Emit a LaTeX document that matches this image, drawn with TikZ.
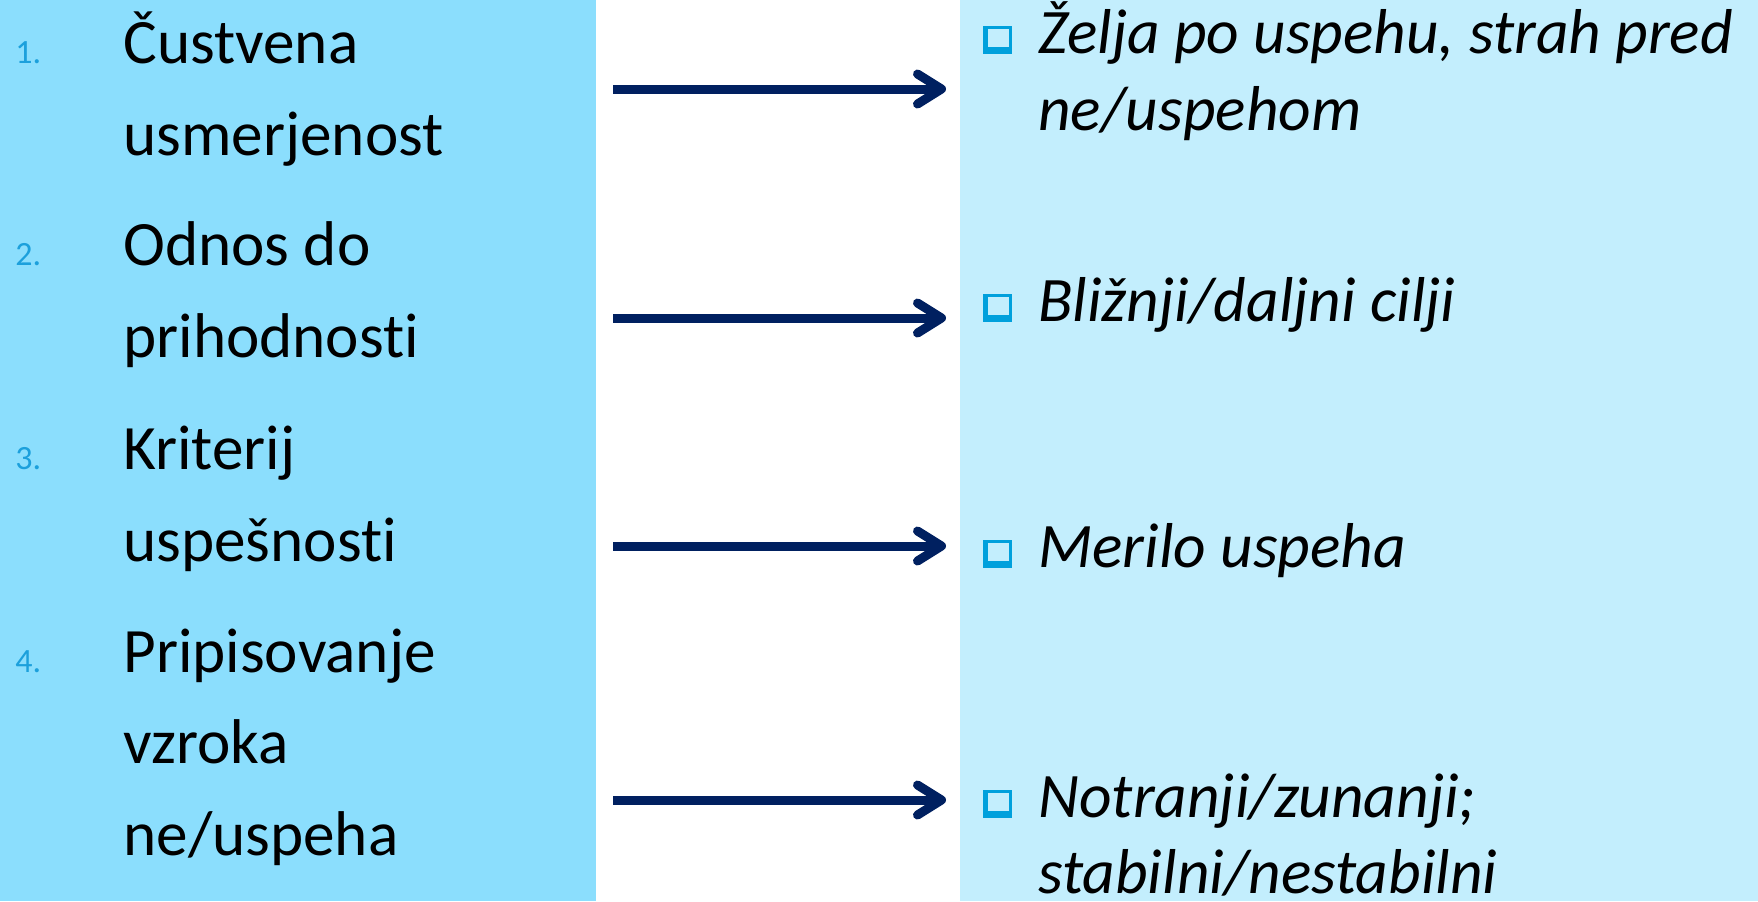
\documentclass[tikz,border=0pt]{standalone}
\usepackage{fontspec}
\setmainfont{Carlito}[Ligatures={NoCommon}]
\usetikzlibrary{arrows.meta}
\definecolor{leftbg}{HTML}{8BDEFD}
\definecolor{rightbg}{HTML}{C3EEFD}
\definecolor{numblue}{HTML}{1CA0DC}
\definecolor{bulblue}{HTML}{00A0DC}
\definecolor{navy}{HTML}{002060}
\newcommand\mybullet[2]{%
  \fill[bulblue] (#1,#2-28) rectangle (#1+29,#2);
  \fill[rightbg] (#1+5,#2-25) rectangle (#1+26,#2-7);
}
\begin{document}
\begin{tikzpicture}[x=0.5pt,y=-0.5pt,
  lefttext/.style={anchor=base west,inner sep=0pt,font=\fontsize{31.6pt}{37pt}\selectfont},
  numtext/.style={anchor=base west,inner sep=0pt,text=numblue,font=\fontsize{17pt}{20pt}\selectfont},
  righttext/.style={anchor=base west,inner sep=0pt,font=\fontsize{31.7pt}{37pt}\selectfont\itshape},
  conn/.style={draw=navy,line width=4.5pt,-{Straight Barb[length=12pt,width=15pt,round]}}]
\useasboundingbox (0,0) rectangle (1758,901);
\fill[white] (0,0) rectangle (1758,901);
\fill[leftbg] (0,0) rectangle (596,901);
\fill[rightbg] (960,0) rectangle (1758,901);
% left column
\node[numtext] (n1) at (15,63) {1.};
\node[lefttext] (l1a) at (123,63) {Čustvena};
\node[lefttext] (l1b) at (123,155) {usmerjenost};
\node[numtext] (n2) at (15,265) {2.};
\node[lefttext] (l2a) at (123,265) {Odnos do};
\node[lefttext] (l2b) at (123,357) {prihodnosti};
\node[numtext] (n3) at (15,469) {3.};
\node[lefttext] (l3a) at (123,469) {Kriterij};
\node[lefttext] (l3b) at (123,561) {uspešnosti};
\node[numtext] (n4) at (15,672) {4.};
\node[lefttext] (l4a) at (123,672) {Pripisovanje};
\node[lefttext] (l4b) at (123,763) {vzroka};
\node[lefttext] (l4c) at (123,855) {ne/uspeha};
% right column
\mybullet{983}{54}
\node[righttext] (r1a) at (1038,53) {Želja po uspehu, strah pred};
\node[righttext] (r1b) at (1038,130) {ne/uspehom};
\mybullet{983}{322}
\node[righttext] (r2) at (1038,321) {Bližnji/daljni cilji};
\mybullet{983}{568}
\node[righttext] (r3) at (1038,567) {Merilo uspeha};
\mybullet{983}{818}
\node[righttext] (r4a) at (1038,817) {Notranji/zunanji;};
\node[righttext] (r4b) at (1038,893) {stabilni/nestabilni};
% arrows
\coordinate (a1s) at (613,89);  \coordinate (a1e) at (946,89);
\coordinate (a2s) at (613,318); \coordinate (a2e) at (946,318);
\coordinate (a3s) at (613,546); \coordinate (a3e) at (946,546);
\coordinate (a4s) at (613,800); \coordinate (a4e) at (946,800);
\draw[conn] (a1s) -- (a1e);
\draw[conn] (a2s) -- (a2e);
\draw[conn] (a3s) -- (a3e);
\draw[conn] (a4s) -- (a4e);
\end{tikzpicture}
\end{document}
